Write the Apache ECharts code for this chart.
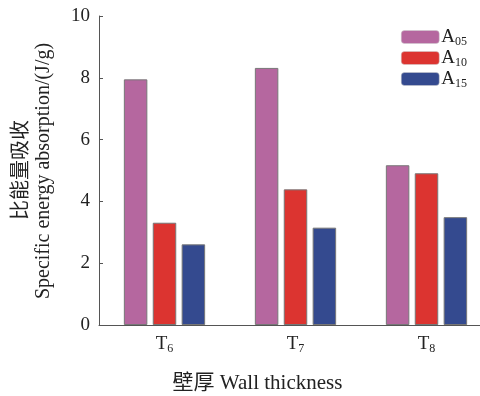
<!DOCTYPE html>
<html>
<head>
<meta charset="utf-8">
<script src="https://cdn.jsdelivr.net/npm/echarts@6/dist/echarts.min.js"></script>
<style>html,body{margin:0;padding:0;background:#fff;}#c{width:480px;height:396px;}</style>
</head>
<body>
<div id="c"></div>
<script>
const categories = ['T6', 'T7', 'T8'];
const seriesNames = ['A05', 'A10', 'A15'];
const A05 = [7.95, 8.32, 5.17];
const A10 = [3.31, 4.39, 4.91];
const A15 = [2.61, 3.15, 3.49];
const yTicks = [0, 2, 4, 6, 8, 10];

const FONT = '"Liberation Serif", "Times New Roman", "Noto Sans CJK SC", serif';
const colors = ['#B5679F', '#DC3430', '#344A8F'];
const AX = '#555';

const chart = echarts.init(document.getElementById('c'), null, {renderer: 'canvas'});
const sub = (s) => '{a|' + s.charAt(0) + '}{s|' + s.slice(1) + '}';
const richSub = {
  a: {fontFamily: FONT, fontSize: 19, color: '#222', verticalAlign: 'bottom'},
  s: {fontFamily: FONT, fontSize: 12, color: '#222', verticalAlign: 'bottom', padding: [0, 0, -1, 0]}
};
const data = [A05, A10, A15];
chart.setOption({
  animation: false,
  backgroundColor: '#fff',
  textStyle: {fontFamily: FONT},
  grid: {left: 99, top: 16, width: 393, height: 309, containLabel: false, outerBoundsMode: 'none'},
  legend: {
    orient: 'vertical', left: 401, top: 27, padding: 0, itemWidth: 38, itemHeight: 13, itemGap: 0,
    data: seriesNames,
    formatter: sub,
    textStyle: {rich: richSub, lineHeight: 20, height: 20, padding: [0, 0, 0, -3]},
    itemStyle: {borderColor: '#ccc', borderWidth: 0.5}
  },
  xAxis: {
    type: 'category', data: categories,
    name: '壁厚 Wall thickness', nameLocation: 'middle', nameGap: 48, nameMoveOverlap: false,
    nameTextStyle: {fontFamily: '"Liberation Serif", "Noto Sans CJK SC", serif', fontSize: 21, color: '#222', padding: [0, 76, 0, 0]},
    axisLine: {lineStyle: {color: AX, width: 1}},
    axisTick: {inside: true, alignWithLabel: true, length: 4, lineStyle: {color: AX}},
    axisLabel: {margin: 10, formatter: sub, rich: richSub}
  },
  yAxis: {
    type: 'value', min: 0, max: 10, interval: 2,
    axisLine: {show: true, lineStyle: {color: AX, width: 1}},
    axisTick: {show: true, inside: true, length: 4, lineStyle: {color: AX}},
    splitLine: {show: false},
    axisLabel: {margin: 9, fontFamily: FONT, fontSize: 19, color: '#222',
      formatter: (v) => yTicks.includes(v) ? String(v) : ''}
  },
  graphic: [
    {type: 'text', x: 19, y: 170, rotation: Math.PI / 2,
     style: {text: '比能量吸收', font: '20px "Noto Sans CJK SC"', fill: '#222', textAlign: 'center', textVerticalAlign: 'middle'}},
    {type: 'text', x: 44, y: 171, rotation: Math.PI / 2,
     style: {text: 'Specific energy absorption/(J/g)', font: '20px "Liberation Serif"', fill: '#222', textAlign: 'center', textVerticalAlign: 'middle'}}
  ],
  series: seriesNames.map((n, i) => ({
    name: n, type: 'bar', data: data[i], barWidth: 23.5, barGap: '23%',
    itemStyle: {color: colors[i], borderColor: '#777', borderWidth: 1}
  }))
});
</script>
</body>
</html>
